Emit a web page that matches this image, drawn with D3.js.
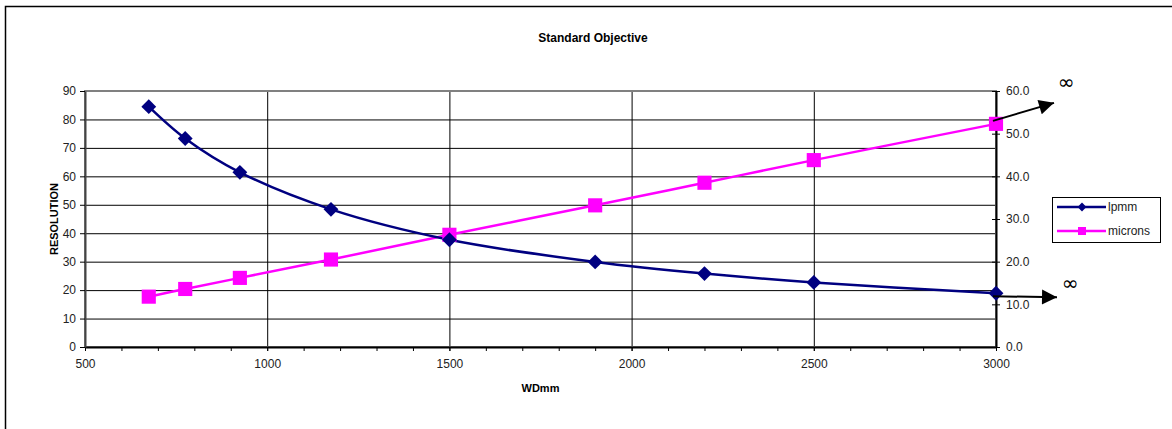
<!DOCTYPE html>
<html>
<head>
<meta charset="utf-8">
<script src="https://cdn.jsdelivr.net/npm/d3@7"></script>
<style>
  body { margin: 0; background: #fff; }
  text { font-family: "Liberation Sans", Arial, sans-serif; }
</style>
</head>
<body>
<div id="chart"></div>
<script>
// veriler
const wd = [675, 775, 925, 1175, 1500, 1900, 2200, 2500, 3000];
const lpmm = [84.5, 73.3, 61.4, 48.4, 37.7, 29.9, 25.8, 22.7, 18.9];
const microns = [11.8, 13.6, 16.2, 20.5, 26.3, 33.2, 38.5, 43.8, 52.3];
const xTicks = [500, 1000, 1500, 2000, 2500, 3000];
const xMinorTicks = d3.range(500, 3001, 100);
const yLeftTicks = [0, 10, 20, 30, 40, 50, 60, 70, 80, 90];
const yRightTicks = [0, 10, 20, 30, 40, 50, 60];
const seriesNames = ["lpmm", "microns"];

const width = 1172, height = 429;
const margin = { top: 91, right: 176, bottom: 82, left: 85 };
const w = width - margin.left - margin.right;
const h = height - margin.top - margin.bottom;

const svg = d3.select("#chart").append("svg")
    .attr("width", width)
    .attr("height", height);

// dis cerceve (sadece sol ve ust gorunuyor)
svg.append("path")
    .attr("d", `M5.5,${height}V6.5H${width}`)
    .attr("fill", "none")
    .attr("stroke", "#000")
    .attr("stroke-width", 1.5);

const g = svg.append("g").attr("transform", `translate(${margin.left},${margin.top})`);

const x = d3.scaleLinear().domain([500, 3000]).range([0, w]);
const yL = d3.scaleLinear().domain([0, 90]).range([h, 0]);
const yR = d3.scaleLinear().domain([0, 60]).range([h, 0]);

// izgara
g.append("g")
    .call(d3.axisLeft(yL).tickValues(yLeftTicks).tickSize(-w).tickFormat(""))
    .call(s => s.select(".domain").remove())
    .selectAll("line").attr("stroke", "#000").attr("stroke-width", 1);
g.append("g")
    .attr("transform", `translate(0,${h})`)
    .call(d3.axisBottom(x).tickValues(xTicks).tickSize(-h).tickFormat(""))
    .call(s => s.select(".domain").remove())
    .selectAll("line").attr("stroke", "#000").attr("stroke-width", 1);

// plot alani cercevesi
g.append("rect")
    .attr("width", w).attr("height", h)
    .attr("fill", "none")
    .attr("stroke", "#808080")
    .attr("stroke-width", 2);

// eksenler
const tickFont = s => s.selectAll("text")
    .style("font-size", "12px")
    .style("fill", "#222");

const xMinor = g.append("g")
    .attr("transform", `translate(0,${h})`)
    .call(d3.axisBottom(x).tickValues(xMinorTicks).tickSize(4).tickSizeOuter(0).tickFormat(""));
xMinor.select(".domain").attr("stroke", "#000").attr("stroke-width", 2);

const xAxis = g.append("g")
    .attr("transform", `translate(0,${h})`)
    .call(d3.axisBottom(x).tickValues(xTicks).tickSize(4).tickSizeOuter(0).tickPadding(8)
        .tickFormat(d3.format("d")))
    .call(tickFont);
xAxis.select(".domain").remove();

const leftAxis = g.append("g")
    .call(d3.axisLeft(yL).tickValues(yLeftTicks).tickSize(5).tickSizeOuter(0).tickPadding(4))
    .call(tickFont);
leftAxis.select(".domain").attr("stroke", "#444").attr("stroke-width", 2);

const rightAxis = g.append("g")
    .attr("transform", `translate(${w},0)`)
    .call(d3.axisRight(yR).tickValues(yRightTicks).tickSize(4).tickSizeOuter(0).tickPadding(6)
        .tickFormat(d3.format(".1f")))
    .call(tickFont);
rightAxis.select(".domain").attr("stroke", "#000").attr("stroke-width", 2);
rightAxis.selectAll(".tick line").attr("x1", -4);

// cizgiler
const lineL = d3.line().x((d, i) => x(wd[i])).y(d => yL(d)).curve(d3.curveCatmullRom.alpha(0.5));
const lineR = d3.line().x((d, i) => x(wd[i])).y(d => yR(d)).curve(d3.curveCatmullRom.alpha(0.5));

g.append("path").datum(microns)
    .attr("d", lineR)
    .attr("fill", "none").attr("stroke", "#ff00ff").attr("stroke-width", 2.5);
g.append("path").datum(lpmm)
    .attr("d", lineL)
    .attr("fill", "none").attr("stroke", "#000080").attr("stroke-width", 2.5);

const diamond = d3.symbol().type(d3.symbolDiamond2).size(140);
const square = d3.symbol().type(d3.symbolSquare).size(200);

g.selectAll(".sq").data(microns).enter().append("path")
    .attr("class", "sq")
    .attr("transform", (d, i) => `translate(${x(wd[i])},${yR(d)})`)
    .attr("d", square)
    .attr("fill", "#ff00ff");
g.selectAll(".dm").data(lpmm).enter().append("path")
    .attr("class", "dm")
    .attr("transform", (d, i) => `translate(${x(wd[i])},${yL(d)})`)
    .attr("d", diamond)
    .attr("fill", "#000080");

// sonsuz oklari
svg.append("defs").append("marker")
    .attr("id", "ok")
    .attr("viewBox", "0 0 10 10")
    .attr("refX", 10).attr("refY", 5)
    .attr("markerUnits", "userSpaceOnUse")
    .attr("markerWidth", 16).attr("markerHeight", 15)
    .attr("orient", "auto")
    .append("path").attr("d", "M0,0L10,5L0,10Z").attr("fill", "#000");

const last = wd.length - 1;
const arrows = [
    { x0: x(wd[last]) - 3, y0: yR(microns[last]) - 3, dx: 61, dy: -18, lx: 12, ly: -21 },
    { x0: x(wd[last]) - 3, y0: yL(lpmm[last]) + 3, dx: 64, dy: 1, lx: 13, ly: -14 }
];
arrows.forEach(a => {
    g.append("line")
        .attr("x1", a.x0).attr("y1", a.y0)
        .attr("x2", a.x0 + a.dx).attr("y2", a.y0 + a.dy)
        .attr("stroke", "#000").attr("stroke-width", 2)
        .attr("marker-end", "url(#ok)");
    g.append("text")
        .attr("x", a.x0 + a.dx + a.lx).attr("y", a.y0 + a.dy + a.ly)
        .attr("text-anchor", "middle")
        .attr("dominant-baseline", "central")
        .style("font-size", "20px")
        .style("font-family", "DejaVu Sans, sans-serif")
        .text("\u221e");
});

// baslik ve eksen basliklari
svg.append("text")
    .attr("x", 593).attr("y", 42)
    .attr("text-anchor", "middle")
    .style("font-size", "12px").style("font-weight", "bold")
    .text("Standard Objective");
svg.append("text")
    .attr("x", margin.left + w / 2).attr("y", 392)
    .attr("text-anchor", "middle")
    .style("font-size", "11px").style("font-weight", "bold")
    .text("WDmm");
svg.append("text")
    .attr("transform", `translate(58,${margin.top + h / 2}) rotate(-90)`)
    .attr("text-anchor", "middle")
    .style("font-size", "11px").style("font-weight", "bold")
    .text("RESOLUTION");

// lejant
const legend = svg.append("g").attr("transform", "translate(1052,197)");
legend.append("rect")
    .attr("x", 0.5).attr("y", 0.5).attr("width", 108).attr("height", 45)
    .attr("fill", "#fff").attr("stroke", "#000").attr("stroke-width", 1);
const legendColors = ["#000080", "#ff00ff"];
const legendSymbols = [d3.symbol().type(d3.symbolDiamond2).size(50), d3.symbol().type(d3.symbolSquare).size(64)];
seriesNames.forEach((name, i) => {
    const yy = 10 + i * 24;
    legend.append("line")
        .attr("x1", 5).attr("x2", 54).attr("y1", yy).attr("y2", yy)
        .attr("stroke", legendColors[i]).attr("stroke-width", 2.5);
    legend.append("path")
        .attr("transform", `translate(30,${yy})`)
        .attr("d", legendSymbols[i])
        .attr("fill", legendColors[i]);
    legend.append("text")
        .attr("x", 56).attr("y", yy + 4)
        .style("font-size", "12px").style("fill", "#222")
        .text(name);
});
</script>
</body>
</html>
